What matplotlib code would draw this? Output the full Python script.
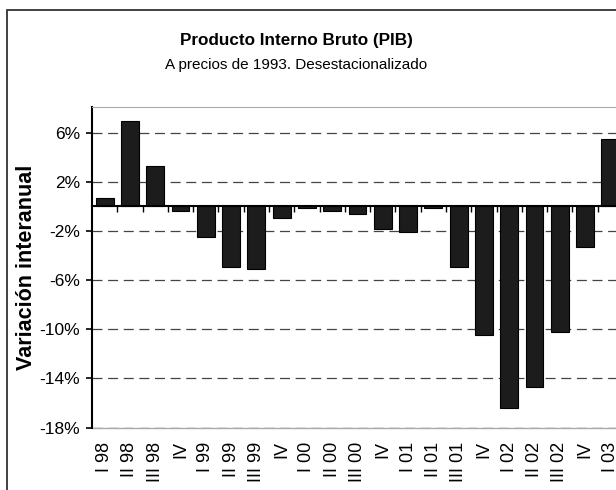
import matplotlib
matplotlib.use("Agg")
import matplotlib.pyplot as plt
from matplotlib.patches import Rectangle
from matplotlib.ticker import FuncFormatter
import numpy as np

categories = ["I 98", "II 98", "III 98", "IV", "I 99", "II 99", "III 99", "IV",
              "I 00", "II 00", "III 00", "IV", "I 01", "II 01", "III 01", "IV",
              "I 02", "II 02", "III 02", "IV", "I 03"]
values = [0.7, 7.0, 3.3, -0.4, -2.5, -4.9, -5.1, -0.9,
          -0.15, -0.4, -0.6, -1.85, -2.05, -0.1, -4.9, -10.5,
          -16.4, -14.7, -10.2, -3.3, 5.5]
yticks = [-18, -14, -10, -6, -2, 2, 6]

plt.rcParams['font.family'] = ['Liberation Sans', 'DejaVu Sans']

W, H = 616, 490
fig = plt.figure(figsize=(W / 100, H / 100), dpi=100)

# outer chart border
fig.patches.append(Rectangle((7 / W, -0.05), 1.2, 1 - 9.5 / H + 0.05,
                             transform=fig.transFigure, fill=False,
                             edgecolor='#333333', linewidth=1.3))

left, right, top, bottom = 92, 623, 107, 427.5
ax = fig.add_axes([left / W, 1 - bottom / H, (right - left) / W, (bottom - top) / H])

x = np.arange(len(categories))
ax.bar(x, values, width=0.71, color='#1c1c1c', edgecolor='black', linewidth=0.8, zorder=3)

ax.set_xlim(-0.5, len(categories) - 0.5)
ax.set_ylim(-18, 8.1)

ax.set_yticks(yticks)
ax.yaxis.set_major_formatter(FuncFormatter(lambda v, p: f"{int(v)}%"))
ax.tick_params(axis='y', direction='out', length=4, width=1.2, labelsize=12.5, pad=4.5)
for yv in yticks:
    ax.axhline(yv, color='#444444', linestyle=(0, (8, 4.5)), linewidth=0.9, zorder=1)

# zero axis with boundary ticks
ax.spines['bottom'].set_position(('data', 0))
ax.spines['bottom'].set_color('black')
ax.spines['bottom'].set_linewidth(1.5)
ax.spines['bottom'].set_zorder(4)
ax.set_xticks(np.arange(len(categories) - 1) + 0.5)
ax.tick_params(axis='x', direction='out', length=4, width=1.0, labelbottom=False)

ax.spines['left'].set_color('black')
ax.spines['left'].set_linewidth(1.5)
ax.spines['top'].set_color('#aaaaaa')
ax.spines['right'].set_visible(False)

# category labels along the bottom edge
sec = ax.secondary_xaxis(0)
sec.set_xticks(x)
sec.set_xticklabels(categories, rotation=90, fontsize=13)
sec.tick_params(axis='x', length=0, pad=10)
sec.spines['bottom'].set_color('#aaaaaa')
sec.spines['bottom'].set_linewidth(1.0)

ax.set_ylabel("Variación interanual", fontsize=15.5, fontweight='bold', labelpad=2)

fig.text(296 / W, 1 - 40 / H, "Producto Interno Bruto (PIB)", ha='center', va='center',
         fontsize=12.3, fontweight='bold')
fig.text(296 / W, 1 - 65 / H, "A precios de 1993. Desestacionalizado", ha='center', va='center',
         fontsize=11)

fig.savefig("out.png", dpi=100)
